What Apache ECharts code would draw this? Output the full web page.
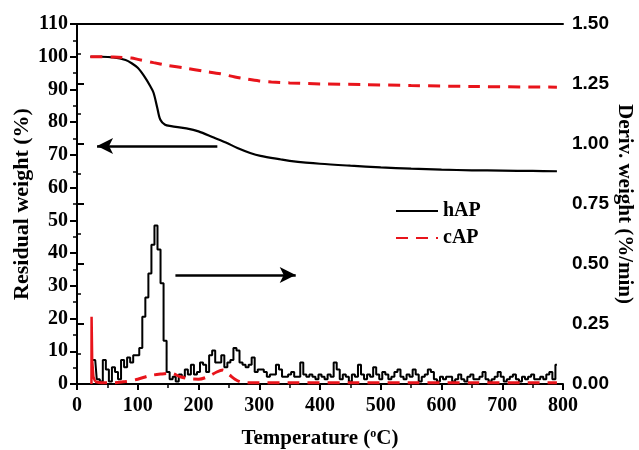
<!DOCTYPE html>
<html>
<head>
<meta charset="utf-8">
<script src="https://cdn.jsdelivr.net/npm/echarts@6/dist/echarts.min.js"></script>
<style>html,body{margin:0;padding:0;background:#fff;}#c{width:639px;height:450px;}</style>
</head>
<body>
<div id="c"></div>
<script>
// ---- TGA residual weight (%) ----
const tgaHapT = [22,40,60,80,90,100,110,120,126,132,137,145,155,180,200,225,245,264,285,302,336,350,400,450,500,550,600,650,700,750,790];
const tgaHapW = [100,100,99.8,99.0,98.0,96.6,94.2,91.2,89.0,84.5,80.8,79.2,78.8,78.1,77.2,75.3,73.8,72.1,70.6,69.7,68.6,68.2,67.3,66.7,66.2,65.8,65.5,65.3,65.2,65.1,65.0];
const tgaCapT = [22,60,90,100,126,148,180,208,236,260,275,300,320,350,400,470,550,650,790];
const tgaCapW = [100,99.9,99.6,99.2,98.2,97.4,96.5,95.6,94.8,93.8,93.3,92.6,92.3,92.0,91.7,91.5,91.2,90.9,90.7];

// ---- DTG derivative weight (%/min) ----
const dtgHapT = [25,30,35,40,45,50,55,60,65,70,75,80,85,90,95,100,105,110,115,120,125,130,135,140,145,150,155,160,165,170,175,180,185,190,195,200,205,210,215,220,225,230,235,240,245,250,255,260,265,270,275,280,285,290,295,300,305,310,315,320,325,330,335,340,345,350,355,360,365,370,375,380,385,390,395,400,405,410,415,420,425,430,435,440,445,450,455,460,465,470,475,480,485,490,495,500,505,510,515,520,525,530,535,540,545,550,555,560,565,570,575,580,585,590,595,600,605,610,615,620,625,630,635,640,645,650,655,660,665,670,675,680,685,690,695,700,705,710,715,720,725,730,735,740,745,750,755,760,765,770,775,780,785,790];
const dtgHapV = [0.10,0.10,0.02,0.01,0.10,0.06,0.01,0.07,0.05,0.02,0.10,0.07,0.11,0.09,0.12,0.12,0.15,0.28,0.36,0.46,0.58,0.66,0.56,0.42,0.18,0.05,0.02,0.03,0.01,0.04,0.03,0.06,0.04,0.08,0.04,0.05,0.09,0.08,0.05,0.12,0.14,0.09,0.09,0.12,0.07,0.09,0.10,0.15,0.14,0.09,0.08,0.07,0.08,0.11,0.05,0.06,0.06,0.05,0.03,0.04,0.04,0.08,0.06,0.03,0.03,0.04,0.05,0.03,0.03,0.09,0.04,0.03,0.04,0.03,0.02,0.04,0.03,0.02,0.04,0.03,0.09,0.06,0.02,0.04,0.03,0.01,0.04,0.03,0.08,0.04,0.02,0.04,0.03,0.07,0.04,0.02,0.05,0.04,0.02,0.03,0.05,0.06,0.03,0.02,0.04,0.03,0.06,0.04,0.01,0.03,0.04,0.06,0.05,0.02,0.01,0.03,0.02,0.03,0.03,0.01,0.02,0.04,0.02,0.01,0.03,0.04,0.02,0.02,0.03,0.05,0.02,0.01,0.02,0.03,0.05,0.03,0.01,0.02,0.03,0.04,0.02,0.01,0.03,0.02,0.03,0.04,0.02,0.02,0.03,0.02,0.04,0.05,0.02,0.08];
const dtgCapSpikeT = [23.8,24,25,27,30];
const dtgCapSpikeV = [0,0.28,0.10,0.03,0.01];
const dtgCapT = [30,40,60,80,100,120,140,155,170,185,200,215,230,240,250,260,270,290,350,450,550,650,790];
const dtgCapV = [0.01,0.005,0.005,0.01,0.02,0.035,0.042,0.045,0.03,0.022,0.02,0.03,0.05,0.058,0.04,0.02,0.008,0.005,0.005,0.005,0.005,0.005,0.005];

// ---- annotation arrows (data coordinates: T, residual weight) ----
const arrowLeft = [[231,72.7],[33,72.7]];
const arrowRight = [[162,33.3],[360,33.3]];

const xTicks = [0,100,200,300,400,500,600,700,800];

function pairs(t, v){ return t.map((x,i)=>[x, v[i]]); }

const serif = '"Liberation Serif","Times New Roman",serif';
const sans = '"Liberation Sans",Arial,sans-serif';
const BLACK = '#000';
const RED = '#e8141b';

const chart = echarts.init(document.getElementById('c'), null, {renderer:'canvas'});
chart.setOption({
  animation: false,
  backgroundColor: '#fff',
  grid: {left: 77, right: 76, top: 24, bottom: 66, containLabel: false, outerBoundsMode: 'none'},
  legend: {
    data: ['hAP','cAP'],
    orient: 'vertical',
    left: 390, top: 196,
    itemWidth: 42, itemHeight: 14, itemGap: 7,
    itemStyle: {opacity: 0},
    textStyle: {fontFamily: serif, fontWeight: 'bold', fontSize: 20, color: '#000'}
  },
  xAxis: [{
    type: 'value', min: 0, max: 800, interval: 100,
    name: 'Temperature ({s|o}C)', nameLocation: 'middle', nameGap: 44, nameMoveOverlap: false,
    nameTextStyle: {fontFamily: serif, fontWeight: 'bold', fontSize: 21, color: '#000',
      rich: {s: {fontFamily: serif, fontWeight: 'bold', fontSize: 12, verticalAlign: 'top', padding: [0,0,10,0]}}},
    axisLine: {show: true, lineStyle: {color: BLACK, width: 2}},
    axisTick: {show: true, inside: false, length: 6, lineStyle: {width: 2, color: BLACK}},
    minorTick: {show: true, splitNumber: 2, length: 4, lineStyle: {width: 1.5, color: BLACK}},
    axisLabel: {fontFamily: serif, fontWeight: 'bold', fontSize: 20, color: '#000', margin: 12,
      formatter: v => xTicks.includes(v) ? String(v) : ''},
    splitLine: {show: false}
  }, {
    type: 'value', min: 0, max: 800, position: 'top',
    axisLine: {show: true, onZero: false, lineStyle: {color: BLACK, width: 2}},
    axisTick: {show: false}, axisLabel: {show: false}, splitLine: {show: false}
  }],
  yAxis: [{
    type: 'value', min: 0, max: 110, interval: 10,
    name: 'Residual weight (%)', nameLocation: 'middle', nameGap: 44, nameRotate: 90, nameMoveOverlap: false,
    nameTextStyle: {fontFamily: serif, fontWeight: 'bold', fontSize: 22, color: '#000'},
    axisLine: {show: true, lineStyle: {color: BLACK, width: 2}},
    axisTick: {show: true, inside: false, length: 7, lineStyle: {width: 2, color: BLACK}},
    minorTick: {show: true, splitNumber: 2, length: 4, lineStyle: {width: 1.5, color: BLACK}},
    axisLabel: {fontFamily: serif, fontWeight: 'bold', fontSize: 20, color: '#000', margin: 9},
    splitLine: {show: false}
  }, {
    type: 'value', min: 0, max: 1.5, interval: 0.25, position: 'right',
    name: 'Deriv. weight (%/min)', nameLocation: 'middle', nameGap: 51, nameRotate: -90, nameMoveOverlap: false,
    nameTextStyle: {fontFamily: serif, fontWeight: 'bold', fontSize: 21, color: '#000'},
    axisLine: {show: true, lineStyle: {color: BLACK, width: 2}},
    axisTick: {show: true, inside: false, length: 7, lineStyle: {width: 2, color: BLACK}},
    minorTick: {show: true, splitNumber: 2, length: 4, lineStyle: {width: 1.5, color: BLACK}},
    axisLabel: {fontFamily: sans, fontWeight: 'bold', fontSize: 19, color: '#000', margin: 9,
      formatter: v => v.toFixed(2)},
    splitLine: {show: false}
  }],
  series: [
    {
      name: 'cAP', type: 'line', yAxisIndex: 1, data: pairs(dtgCapT, dtgCapV),
      symbol: 'none', smooth: 0.3, z: 3,
      lineStyle: {color: RED, width: 3, type: [12, 8]}, itemStyle: {color: RED}
    },
    {
      name: 'cAPspike', type: 'line', yAxisIndex: 1, data: pairs(dtgCapSpikeT, dtgCapSpikeV),
      symbol: 'none', z: 3,
      lineStyle: {color: RED, width: 2.5}, itemStyle: {color: RED}
    },
    {
      name: 'hAP', type: 'line', yAxisIndex: 1, data: pairs(dtgHapT, dtgHapV),
      symbol: 'none', step: 'middle', z: 2,
      lineStyle: {color: BLACK, width: 2}, itemStyle: {color: BLACK}
    },
    {
      name: 'cAP', type: 'line', yAxisIndex: 0, data: pairs(tgaCapT, tgaCapW),
      symbol: 'none', smooth: 0.3, z: 4,
      lineStyle: {color: RED, width: 3, type: [12, 8]}, itemStyle: {color: RED}
    },
    {
      name: 'hAP', type: 'line', yAxisIndex: 0, data: pairs(tgaHapT, tgaHapW),
      symbol: 'none', smooth: 0.3, z: 3,
      lineStyle: {color: BLACK, width: 2.2}, itemStyle: {color: BLACK},
      markLine: {
        silent: true, animation: false,
        symbol: ['none', 'arrow'], symbolSize: [12, 16],
        label: {show: false},
        lineStyle: {color: BLACK, width: 2.5, type: 'solid'},
        emphasis: {disabled: true},
        data: [
          [{coord: arrowLeft[0]}, {coord: arrowLeft[1]}],
          [{coord: arrowRight[0]}, {coord: arrowRight[1]}]
        ]
      }
    }
  ]
});
</script>
</body>
</html>
